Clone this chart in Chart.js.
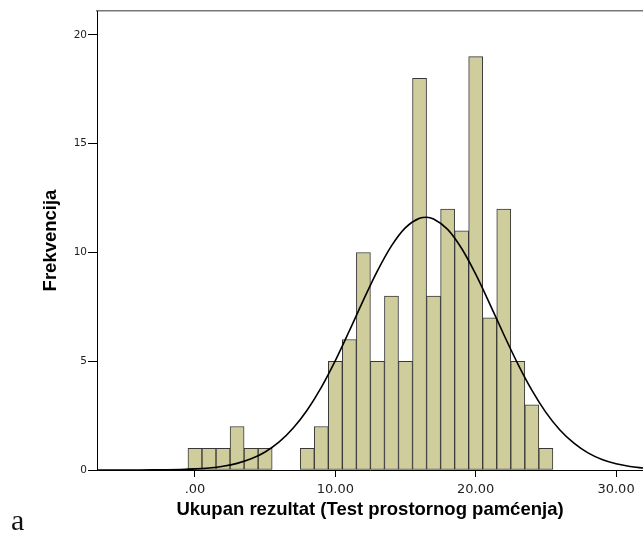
<!DOCTYPE html>
<html>
<head>
<meta charset="utf-8">
<script src="https://cdn.jsdelivr.net/npm/chart.js@4.4.1/dist/chart.umd.min.js"></script>
<style>
  html, body { margin: 0; padding: 0; background: #fff; }
  #wrap { position: relative; width: 643px; height: 534px; }
  #chart { display: block; }
  #panel { position: absolute; left: 11px; top: 505px; font: 30px "Liberation Serif", serif; line-height: 30px; color: #111; }
</style>
</head>
<body>
<div id="wrap">
  <canvas id="chart" width="643" height="534"></canvas>
  <div id="panel">a</div>
</div>
<script>
// --- podaci (histogram) ---
const binCenters = [0, 1, 2, 3, 4, 5, 8, 9, 10, 11, 12, 13, 14, 15, 16, 17, 18, 19, 20, 21, 22, 23, 24, 25];
const frequencies = [1, 1, 1, 2, 1, 1, 1, 2, 5, 6, 10, 5, 8, 5, 18, 8, 12, 11, 19, 7, 12, 5, 3, 1];

// normalna kriva (ocitano sa slike)
const curveX = [-7, -6, -5, -4, -3, -2, -1, 0, 1, 2, 3, 4, 5, 6, 7, 8, 9, 10, 11, 12, 13, 14, 15, 16, 16.5, 17, 18, 19, 20, 21, 22, 23, 24, 25, 26, 27, 28, 29, 30, 31, 32];
const curveY = [0.0002, 0.0005, 0.001, 0.003, 0.006, 0.012, 0.025, 0.05, 0.095, 0.174, 0.304, 0.513, 0.83, 1.29, 1.93, 2.76, 3.8, 5.03, 6.4, 7.81, 9.15, 10.3, 11.14, 11.57, 11.62, 11.54, 11.06, 10.18, 9.0, 7.64, 6.23, 4.88, 3.67, 2.65, 1.84, 1.23, 0.785, 0.482, 0.285, 0.162, 0.088];

const xTicks = [0, 10, 20, 30];
const xTickLabels = [".00", "10.00", "20.00", "30.00"];
const yTicks = [0, 5, 10, 15, 20];

const X_MIN = -6.98, X_MAX = 31.92;
const Y_MAX = 21.1;

const xTickFont = { family: "'DejaVu Sans', sans-serif", size: 13 };
const yTickFont = { family: "'DejaVu Sans', sans-serif", size: 10.5 };
const titleFont = { family: "'Liberation Sans', Arial, sans-serif", size: 18.5, weight: "bold" };

const bars = binCenters.map((x, i) => ({ x: x, y: frequencies[i] }));
const curve = curveX.map((x, i) => ({ x: x, y: curveY[i] }));

new Chart(document.getElementById("chart"), {
  data: {
    datasets: [
      {
        type: "line",
        data: curve,
        order: 0,
        borderColor: "#000",
        borderWidth: 1.6,
        pointRadius: 0,
        fill: false,
        cubicInterpolationMode: "monotone"
      },
      {
        type: "bar",
        data: bars,
        order: 1,
        backgroundColor: "#cfcd9c",
        borderColor: "#383838",
        borderWidth: 1,
        borderSkipped: false,
        barPercentage: 1,
        categoryPercentage: 1
      }
    ]
  },
  options: {
    responsive: false,
    animation: false,
    layout: { padding: { top: 11, left: 0, right: 0, bottom: 0 } },
    plugins: { legend: { display: false }, tooltip: { enabled: false } },
    scales: {
      x: {
        type: "linear",
        position: "bottom",
        min: X_MIN,
        max: X_MAX,
        offset: false,
        afterBuildTicks: s => { s.ticks = xTicks.map(v => ({ value: v })); },
        afterFit: s => { s.height = 64; },
        grid: { display: true, offset: false, drawOnChartArea: false, drawTicks: true, tickLength: 7, color: "#000", lineWidth: 1 },
        border: { display: true, color: "#000", width: 1 },
        ticks: {
          padding: 5,
          color: "#222",
          font: xTickFont,
          maxRotation: 0,
          autoSkip: false,
          callback: (v) => xTickLabels[xTicks.indexOf(v)]
        },
        title: {
          display: true,
          text: "Ukupan rezultat (Test prostornog pamćenja)",
          color: "#000",
          font: titleFont,
          padding: { top: 0, bottom: 13 }
        }
      },
      xTop: {
        type: "linear",
        position: "top",
        min: X_MIN,
        max: X_MAX,
        offset: false,
        afterFit: s => { s.height = 0; },
        grid: { display: false },
        ticks: { display: false },
        border: { display: true, color: "#777", width: 1.5 }
      },
      y: {
        type: "linear",
        position: "left",
        min: 0,
        max: Y_MAX,
        afterBuildTicks: s => { s.ticks = yTicks.map(v => ({ value: v })); },
        afterFit: s => { s.width = 97; },
        grid: { display: true, drawOnChartArea: false, drawTicks: true, tickLength: 9, color: "#000", lineWidth: 1 },
        border: { display: true, color: "#000", width: 1 },
        ticks: { padding: 1, color: "#222", font: yTickFont },
        title: {
          display: true,
          text: "Frekvencija",
          color: "#000",
          font: titleFont,
          padding: { top: 40, bottom: 0 }
        }
      }
    }
  }
});
</script>
</body>
</html>
